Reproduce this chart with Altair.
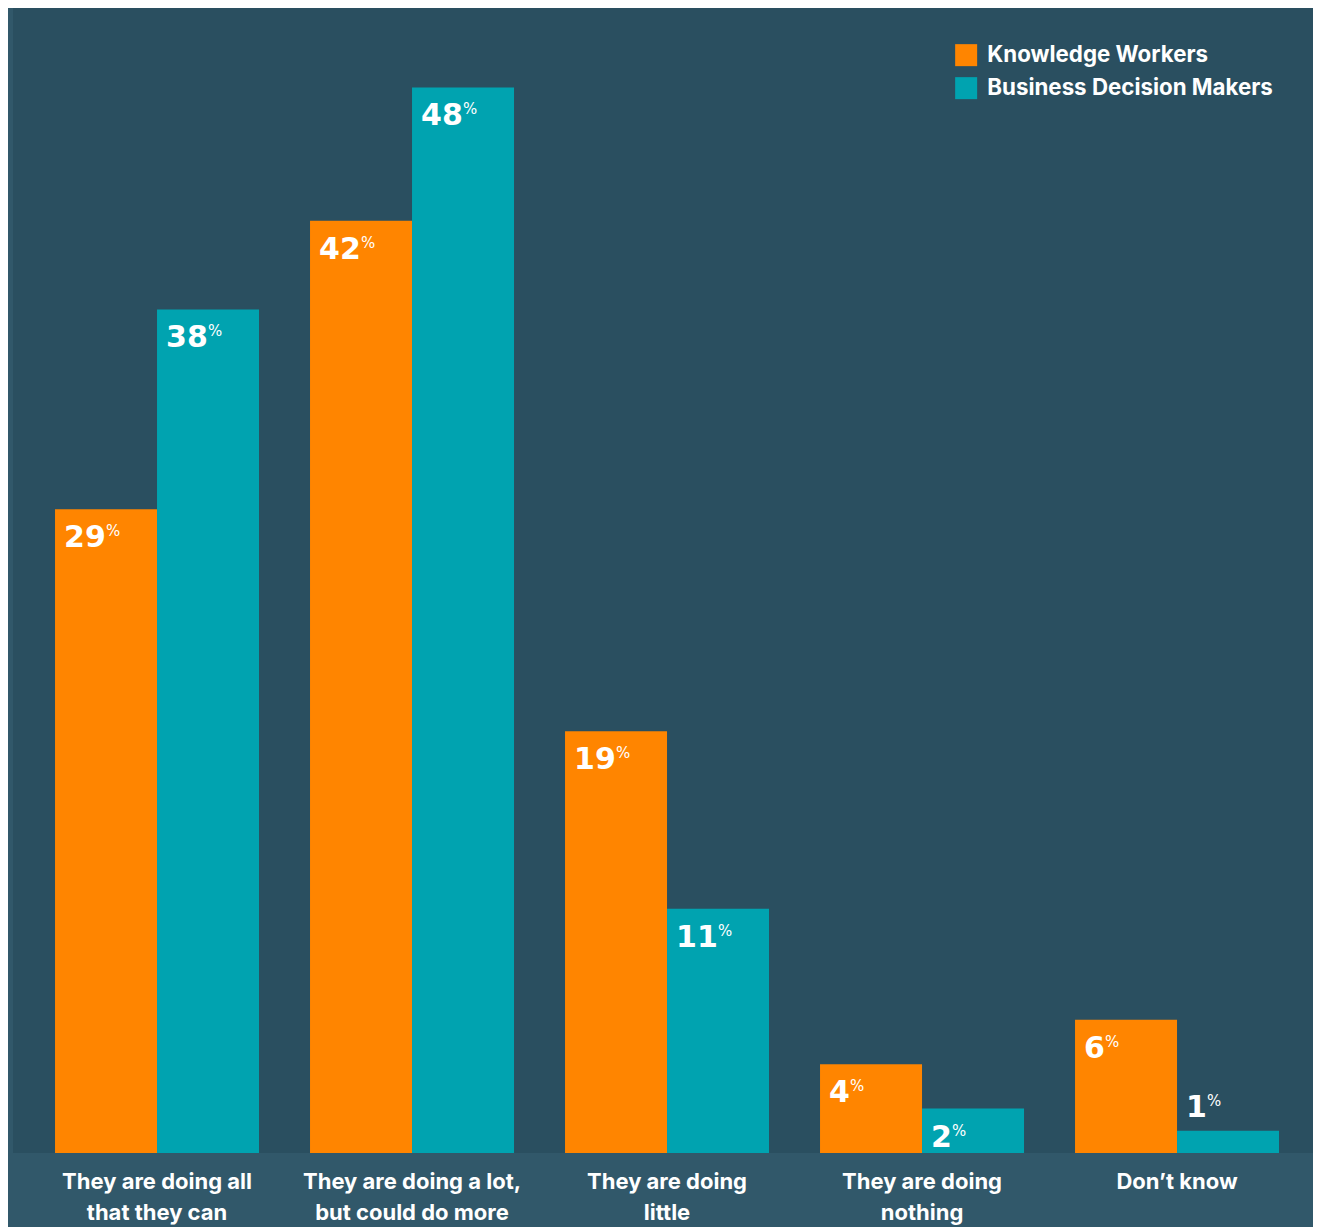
import altair as alt
import pandas as pd

categories = [
    "They are doing all|that they can",
    "They are doing a lot,|but could do more",
    "They are doing|little",
    "They are doing|nothing",
    "Don’t know",
]
series = ["Knowledge Workers", "Business Decision Makers"]
knowledge_workers = [29, 42, 19, 4, 6]
decision_makers = [38, 48, 11, 2, 1]

rows = []
for c, k, d in zip(categories, knowledge_workers, decision_makers):
    rows.append({"category": c, "series": series[0], "value": k})
    rows.append({"category": c, "series": series[1], "value": d})
df = pd.DataFrame(rows)

ORANGE = "#FF8500"
TEAL = "#00A3B0"
PANEL = "#2A4F60"
OUTER = "#31586A"

x = alt.X(
    "category:N",
    sort=categories,
    scale=alt.Scale(paddingInner=0.2, paddingOuter=0.149, align=0.553),
    axis=alt.Axis(
        title=None,
        labelExpr="split(datum.label, '|')",
        labelAngle=0,
        labelLimit=0,
        labelFont="Inter",
        labelFontSize=22,
        labelFontWeight="bold",
        labelColor="white",
        labelLineHeight=31,
        labelBaseline="top",
        labelPadding=18,
        ticks=False,
        tickSize=0,
        domain=False,
        grid=False,
    ),
)
xoff = alt.XOffset("series:N", sort=series, scale=alt.Scale(paddingInner=0, paddingOuter=0))
y = alt.Y("value:Q", scale=alt.Scale(domain=[0, 51.58], nice=False, zero=True), axis=None)
color = alt.Color(
    "series:N",
    sort=series,
    scale=alt.Scale(domain=series, range=[ORANGE, TEAL]),
    legend=alt.Legend(
        title=None,
        orient="none",
        legendX=942,
        legendY=36,
        direction="vertical",
        symbolType="square",
        symbolSize=484,
        symbolStrokeWidth=0,
        symbolOpacity=1,
        labelFont="Inter",
        labelFontSize=22.3,
        labelFontWeight="bold",
        labelColor="white",
        labelOffset=10,
        labelLimit=0,
        rowPadding=10,
        padding=0,
    ),
)

base = alt.Chart(df)
bars = base.mark_bar(strokeWidth=0).encode(x=x, xOffset=xoff, y=y, color=color)

num_style = dict(align="left", baseline="alphabetic", font="DejaVu Sans",
                 fontWeight="bold", fontSize=30, color="white")
pct_style = dict(align="left", baseline="alphabetic", font="DejaVu Sans",
                 fontWeight="normal", fontSize=15, color="white")

inside = base.transform_filter("datum.value >= 2")
outside = base.transform_filter("datum.value < 2")

num_in = inside.mark_text(dx=-42, dy=38, **num_style).encode(x=x, xOffset=xoff, y=y, text="value:Q")
num_out = outside.mark_text(dx=-42, dy=-14, **num_style).encode(x=x, xOffset=xoff, y=y, text="value:Q")
pct_in2 = inside.transform_filter("datum.value >= 10").mark_text(dx=0, dy=27, **pct_style).encode(
    x=x, xOffset=xoff, y=y, text=alt.value("%"))
pct_in1 = inside.transform_filter("datum.value < 10").mark_text(dx=-21, dy=27, **pct_style).encode(
    x=x, xOffset=xoff, y=y, text=alt.value("%"))
pct_out = outside.mark_text(dx=-21, dy=-25, **pct_style).encode(
    x=x, xOffset=xoff, y=y, text=alt.value("%"))

chart = (
    alt.layer(bars, num_in, num_out, pct_in2, pct_in1, pct_out)
    .properties(
        width=1300,
        height=1145,
        autosize=alt.AutoSizeParams(type="none"),
        padding={"left": 5, "top": 0, "right": 0, "bottom": 74},
        background=OUTER,
    )
    .configure_view(fill=PANEL, stroke=None)
)

chart.save("out.html", embed_options={"renderer": "svg", "actions": False})
